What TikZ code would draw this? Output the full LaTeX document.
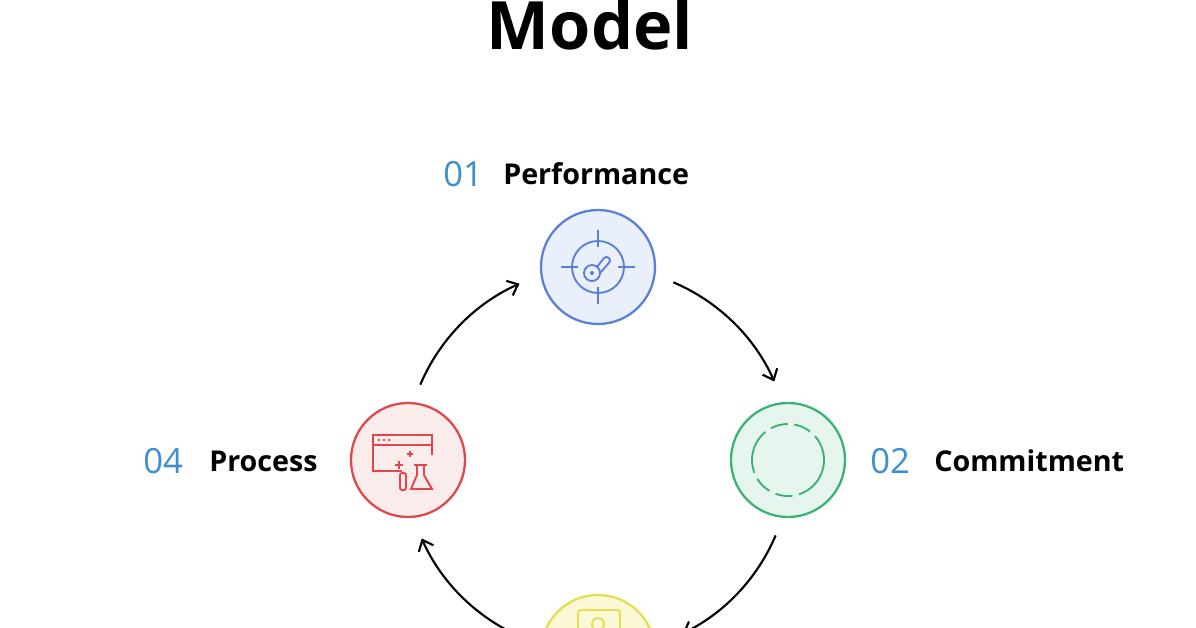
\documentclass[tikz,border=0pt]{standalone}
\usepackage{fontspec}
\setmainfont{Open Sans}
\usetikzlibrary{arrows.meta,calc}
\definecolor{numblue}{HTML}{3D8FD0}
\definecolor{pblue}{HTML}{5B7FD6}\definecolor{fblue}{HTML}{EAF0FB}
\definecolor{pgreen}{HTML}{3BB273}\definecolor{fgreen}{HTML}{E6F6EE}
\definecolor{pred}{HTML}{E0474C}\definecolor{fred}{HTML}{FBECEC}
\definecolor{pyel}{HTML}{E8DC50}\definecolor{fyel}{HTML}{FBF8D6}
\tikzset{
 stage/.style={circle,minimum size=114pt*0.75,line width=1.7pt,inner sep=0},
 num/.style={font=\fontsize{26}{26}\selectfont,text=numblue,inner sep=0},
 lab/.style={font=\bfseries\fontsize{21.5}{21.5}\selectfont,inner sep=0},
 cyc/.style={line width=1.6pt,-{Straight Barb[length=7pt,width=12pt,line width=1.6pt]}},
 ic/.style={line width=1.4pt}
}
\begin{document}
\begin{tikzpicture}[x=0.75pt,y=-0.75pt]
\useasboundingbox[fill=white] (0,0) rectangle (1196,628);
\node[font=\bfseries\fontsize{50}{50}\selectfont,anchor=base] (title) at (590,49) {Model};
\coordinate (c) at (598,460);
\node[stage,draw=pblue,fill=fblue] (p1) at (598,267) {};
\node[stage,draw=pgreen,fill=fgreen] (p2) at (788,460) {};
\node[stage,draw=pyel,fill=fyel] (p3) at (598,652) {};
\node[stage,draw=pred,fill=fred] (p4) at (408,460) {};
% labels
\node[num,anchor=west] (n1) at (443,174) {01};
\node[lab,anchor=west] (l1) at (503,174) {Performance};
\node[num,anchor=west] (n2) at (870,461) {02};
\node[lab,anchor=west] (l2) at (934,461) {Commitment};
\node[num,anchor=west] (n4) at (143,461) {04};
\node[lab,anchor=west] (l4) at (209,461) {Process};
% arrows
\draw[cyc] (c) ++(-67:193) arc[start angle=-67,end angle=-24,radius=193];
\draw[cyc] (c) ++(23:193) arc[start angle=23,end angle=64,radius=193];
\draw[cyc] (c) ++(115:193) arc[start angle=115,end angle=156,radius=193];
\draw[cyc] (c) ++(-157:193) arc[start angle=-157,end angle=-114,radius=193];
% blue icon
\begin{scope}[shift={(p1.center)},draw=pblue,ic]
\draw (0,0) circle (26);
\foreach \a in {0,90,180,270}{\draw (\a:20) -- (\a:37);}
\draw (-6,6) circle (8);
\fill[pblue] (-6,6) circle (2);
\draw (-1,0) -- (6,-9) arc[start angle=-135,end angle=45,radius=3.5] -- (2,6);
\end{scope}
% green icon
\begin{scope}[shift={(p2.center)},draw=pgreen,ic]
\draw[dash pattern=on 34pt off 5pt on 13pt off 5pt on 13pt off 5pt] (0,0) circle (36);
\end{scope}
% red icon
\begin{scope}[shift={(p4.center)},draw=pred,ic]
\draw (-6,11) -- (-35,11) -- (-35,-25) -- (24,-25) -- (24,-5);
\draw (-35,-15) -- (24,-15);
\foreach \x in {-29,-24,-19}{\fill[pred] (\x,-20) circle (1.3);}
\draw[rounded corners=1.5pt] (-8,13) rectangle (-2,30);
\draw (9,5) -- (9,15) -- (3,29) -- (24,29) -- (16,15) -- (16,5);
\draw (6,5) -- (19,5);
\draw (-9,1) -- (-9,9) (-13,5) -- (-5,5);
\draw (2,-9) -- (2,-3) (-1,-6) -- (5,-6);
\end{scope}
% yellow icon (partly visible)
\begin{scope}[shift={(p3.center)},draw=pyel,ic]
\draw[rounded corners=2pt] (-20,-42) rectangle (22,0);
\draw (0,-28) circle (6);
\end{scope}
\end{tikzpicture}
\end{document}
